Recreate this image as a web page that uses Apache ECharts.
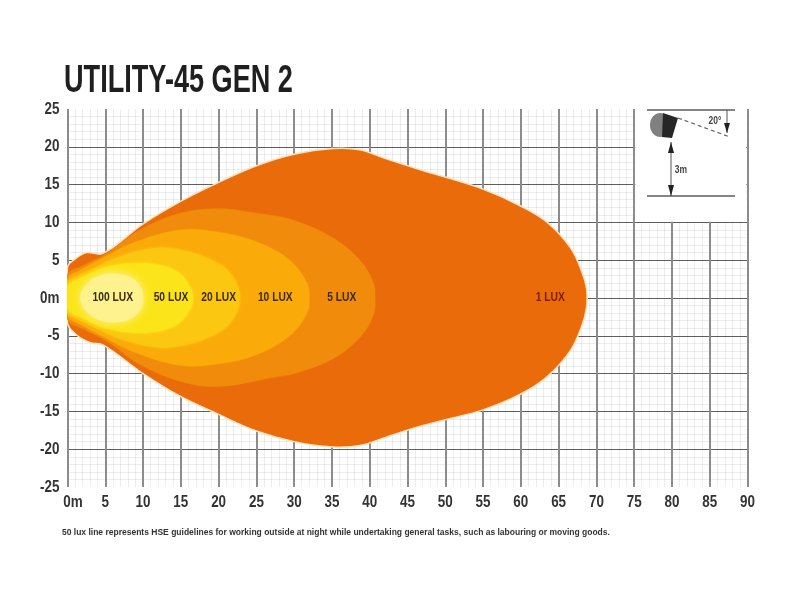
<!DOCTYPE html>
<html lang="en">
<head>
<meta charset="UTF-8">
<title>Utility-45 Gen 2</title>
<style>
html,body{margin:0;padding:0;background:#fff;}
#chart{width:800px;height:600px;}
</style>
</head>
<body>
<div id="chart"></div>
<script src="https://cdn.jsdelivr.net/npm/echarts@6/dist/echarts.min.js"></script>
<script>
// contours, [distance m, width m], going round clockwise from the top left
var lux1 = [[0,4.1],[0.8,5],[2.5,6],[4.7,5.9],[10,9.8],[14.9,12.75],[20,15.3],[25,17.5],[30.1,19.05],[35.1,19.76],[38.7,19.6],[42.2,18.4],[46.6,17],[50,16],[55,14.4],[60.1,12.1],[63.5,10],[66.6,6.6],[68.1,3.4],[68.7,1.2],[68.7,-1.2],[68.1,-3.6],[66.6,-6.9],[63.5,-10.4],[60,-12.7],[55,-14.8],[50,-16.1],[46.6,-17],[42.2,-18.4],[38.7,-19.5],[35.1,-19.7],[30,-19],[25,-17.6],[20,-15.4],[14.9,-13],[10,-10],[4.7,-6.2],[3,-5.9],[1.2,-4.9],[0,-3.3]];
var lux5 = [[0,3],[2.1,4.3],[5.2,5.9],[9.6,9],[14.9,11.2],[20.2,11.8],[25,11.2],[29.9,10.3],[35.2,7.9],[38.7,5],[40.5,2],[40.7,0],[40.5,-2.2],[38.7,-5.2],[35.2,-8],[30,-10],[27.2,-10.5],[20,-11.7],[14.9,-11],[9.6,-8.8],[5.2,-5.7],[2.1,-4.1],[0,-2.8]];
var lux10 = [[0,2.5],[1.7,3.7],[4.7,5.3],[8.7,7.3],[14.9,9],[20,8.7],[25,7.45],[29.4,5],[31.7,2],[32,0],[31.7,-2],[29.4,-5],[25,-7.5],[20,-8.7],[14.9,-8.9],[8.7,-7.1],[4.7,-5.1],[1.7,-3.5],[0,-2.3]];
var lux20 = [[0,2],[1.2,2.8],[3.9,4.1],[7,5.5],[11.8,6.6],[14.9,6.35],[18.4,5.3],[21.5,3.3],[22.8,0],[21.5,-3.3],[18.4,-5.3],[14.9,-6.3],[11.8,-6.5],[7,-5.4],[3.9,-4],[1.2,-2.7],[0,-1.9]];
var lux50 = [[0,1.5],[2.1,2.8],[5.2,4.1],[9.6,4.6],[13.1,4.1],[15.3,2.8],[16.6,0],[15.3,-2.8],[13.1,-4.1],[9.6,-4.6],[5.2,-4],[2.1,-2.7],[0,-1.4]];
var lux100 = [[1.7,0],[2.6,1.9],[4.2,2.9],[6,3.2],[8.2,2.8],[9.6,1.6],[10,0],[9.6,-1.6],[8.2,-2.8],[6,-3.2],[4.2,-2.9],[2.6,-1.9]];

var contours = [lux1, lux5, lux10, lux20, lux50, lux100];
var contourColors = ['#ea6b09', '#f18b0b', '#fbab09', '#fcc711', '#fbe51a', '#fdf28e'];

var luxNames = ['100 LUX', '50 LUX', '20 LUX', '10 LUX', '5 LUX', '1 LUX'];
var luxX = [6, 13.7, 20, 27.5, 36.3, 63.9];
var xTicks = [0,5,10,15,20,25,30,35,40,45,50,55,60,65,70,75,80,85,90];
var xTickLabels = ['0m','5','10','15','20','25','30','35','40','45','50','55','60','65','70','75','80','85','90'];
var yTicks = [25,20,15,10,5,0,-5,-10,-15,-20,-25];
var yTickLabels = ['25','20','15','10','5','0m','-5','-10','-15','-20','-25'];
var insetBox = [[75.15, 10.1], [89.85, 25]];

var font = '"Liberation Sans", sans-serif';
var chart = echarts.init(document.getElementById('chart'));

var series = contours.map(function (points, i) {
  return {
    type: 'custom',
    coordinateSystem: 'cartesian2d',
    silent: true,
    clip: true,
    z: 2 + i,
    data: points,
    renderItem: function (params, api) {
      if (params.dataIndex !== 0) return null;
      return {
        type: 'polygon',
        shape: { points: points.map(function (p) { return api.coord(p); }), smooth: 0.38 },
        style: {
          fill: contourColors[i],
          stroke: i === 0 ? '#fce3c2' : contourColors[i],
          lineWidth: i === 0 ? 1.5 : 0.5,
          shadowBlur: i === 5 ? 8 : (i >= 3 ? 3 : 0),
          shadowColor: contourColors[i]
        }
      };
    }
  };
});

// narrow text: no condensed face is installed, so the labels are squeezed with scaleX
function textSeries(rows, z, draw) {
  return {
    type: 'custom',
    coordinateSystem: 'cartesian2d',
    silent: true,
    clip: false,
    z: z,
    data: rows,
    renderItem: function (params, api) {
      return draw(params.dataIndex, api.coord([api.value(0), api.value(1)]));
    }
  };
}

// lux labels, the white box behind the mounting diagram hangs off this series
var luxSeries = textSeries(luxX.map(function (x) { return [x, 0]; }), 10, function (i, pos) {
  return {
    type: 'text', x: pos[0], y: pos[1], scaleX: 0.82,
    style: { text: luxNames[i], fontFamily: font, fontWeight: 'bold', fontSize: 12.5, fill: i === 5 ? '#7c1c02' : '#3c2a0c', align: 'center', verticalAlign: 'middle' }
  };
});
luxSeries.markArea = {
  silent: true,
  itemStyle: { color: '#fff' },
  data: [[{ coord: insetBox[0] }, { coord: insetBox[1] }]]
};
series.push(luxSeries);

series.push(textSeries(xTicks.map(function (x) { return [x, -25]; }), 10, function (i, pos) {
  return {
    type: 'text', x: pos[0] + (i === 0 ? 5.5 : 0), y: pos[1] + 15, scaleX: 0.79,
    style: { text: xTickLabels[i], fontFamily: font, fontWeight: 'bold', fontSize: 17, fill: '#333', align: 'center', verticalAlign: 'middle' }
  };
}));
series.push(textSeries(yTicks.map(function (y) { return [0, y]; }), 10, function (i, pos) {
  return {
    type: 'text', x: pos[0] - 8, y: pos[1], scaleX: 0.79,
    style: { text: yTickLabels[i], fontFamily: font, fontWeight: 'bold', fontSize: 17, fill: '#333', align: 'right', verticalAlign: 'middle' }
  };
}));

var gray = '#858585';
var minorLine = { color: 'rgba(0,0,0,0.07)', width: 1 };
var option = {
  animation: false,
  backgroundColor: '#fff',
  grid: { left: 67.5, right: 52.5, top: 109, bottom: 113 },
  xAxis: {
    type: 'value', min: 0, max: 90, interval: 5,
    axisLine: { show: false },
    axisTick: { show: false },
    axisLabel: { show: false },
    splitLine: { show: true, lineStyle: { color: '#8c8c8c', width: 2 } },
    minorTick: { show: false, splitNumber: 5 },
    minorSplitLine: { show: true, lineStyle: minorLine }
  },
  yAxis: {
    type: 'value', min: -25, max: 25, interval: 5,
    axisLine: { show: false },
    axisTick: { show: false },
    axisLabel: { show: false },
    splitLine: { show: true, showMinLine: false, showMaxLine: false, lineStyle: { color: '#5f5f5f', width: 1.2 } },
    minorTick: { show: false, splitNumber: 5 },
    minorSplitLine: { show: true, lineStyle: minorLine }
  },
  series: series,
  graphic: [
    { type: 'text', x: 64, y: 62, scaleX: 0.695, z: 20, style: { text: 'UTILITY-45 GEN 2', font: 'bold 39px ' + font, fill: '#1f1f1f' } },
    { type: 'text', x: 62, y: 528, z: 20, style: { text: '50 lux line represents HSE guidelines for working outside at night while undertaking general tasks, such as labouring or moving goods.', font: 'bold 8.5px ' + font, fill: '#333' } },

    // mounting diagram in the top right corner
    { type: 'line', z: 20, shape: { x1: 647, y1: 110, x2: 735, y2: 110 }, style: { stroke: gray, lineWidth: 2 } },
    { type: 'line', z: 20, shape: { x1: 647, y1: 196, x2: 735, y2: 196 }, style: { stroke: gray, lineWidth: 2 } },
    { type: 'ellipse', z: 20, shape: { cx: 660, cy: 125, rx: 10, ry: 12 }, style: { fill: '#808080' } },
    { type: 'polygon', z: 21, shape: { points: [[663, 113], [678, 118], [672, 138], [662, 137]] }, style: { fill: '#262626' } },
    { type: 'line', z: 20, shape: { x1: 678, y1: 118, x2: 730, y2: 137 }, style: { stroke: '#666', lineWidth: 1.2, lineDash: [4, 3] } },
    { type: 'line', z: 20, shape: { x1: 671, y1: 142, x2: 671, y2: 196 }, style: { stroke: '#555', lineWidth: 1 } },
    { type: 'polygon', z: 20, shape: { points: [[671, 142], [674, 153], [668, 153]] }, style: { fill: '#222' } },
    { type: 'polygon', z: 20, shape: { points: [[671, 196], [674, 185], [668, 185]] }, style: { fill: '#222' } },
    { type: 'line', z: 20, shape: { x1: 727, y1: 110, x2: 727, y2: 133 }, style: { stroke: '#555', lineWidth: 1 } },
    { type: 'polygon', z: 20, shape: { points: [[727, 133], [730, 123], [724, 123]] }, style: { fill: '#222' } },
    { type: 'text', x: 681, y: 170, z: 20, scaleX: 0.85, style: { text: '3m', font: 'bold 10px ' + font, fill: '#444', align: 'center', verticalAlign: 'middle' } },
    { type: 'text', x: 715, y: 121, z: 20, scaleX: 0.85, style: { text: '20°', font: 'bold 10px ' + font, fill: '#444', align: 'center', verticalAlign: 'middle' } }
  ]
};
chart.setOption(option);
</script>
</body>
</html>
